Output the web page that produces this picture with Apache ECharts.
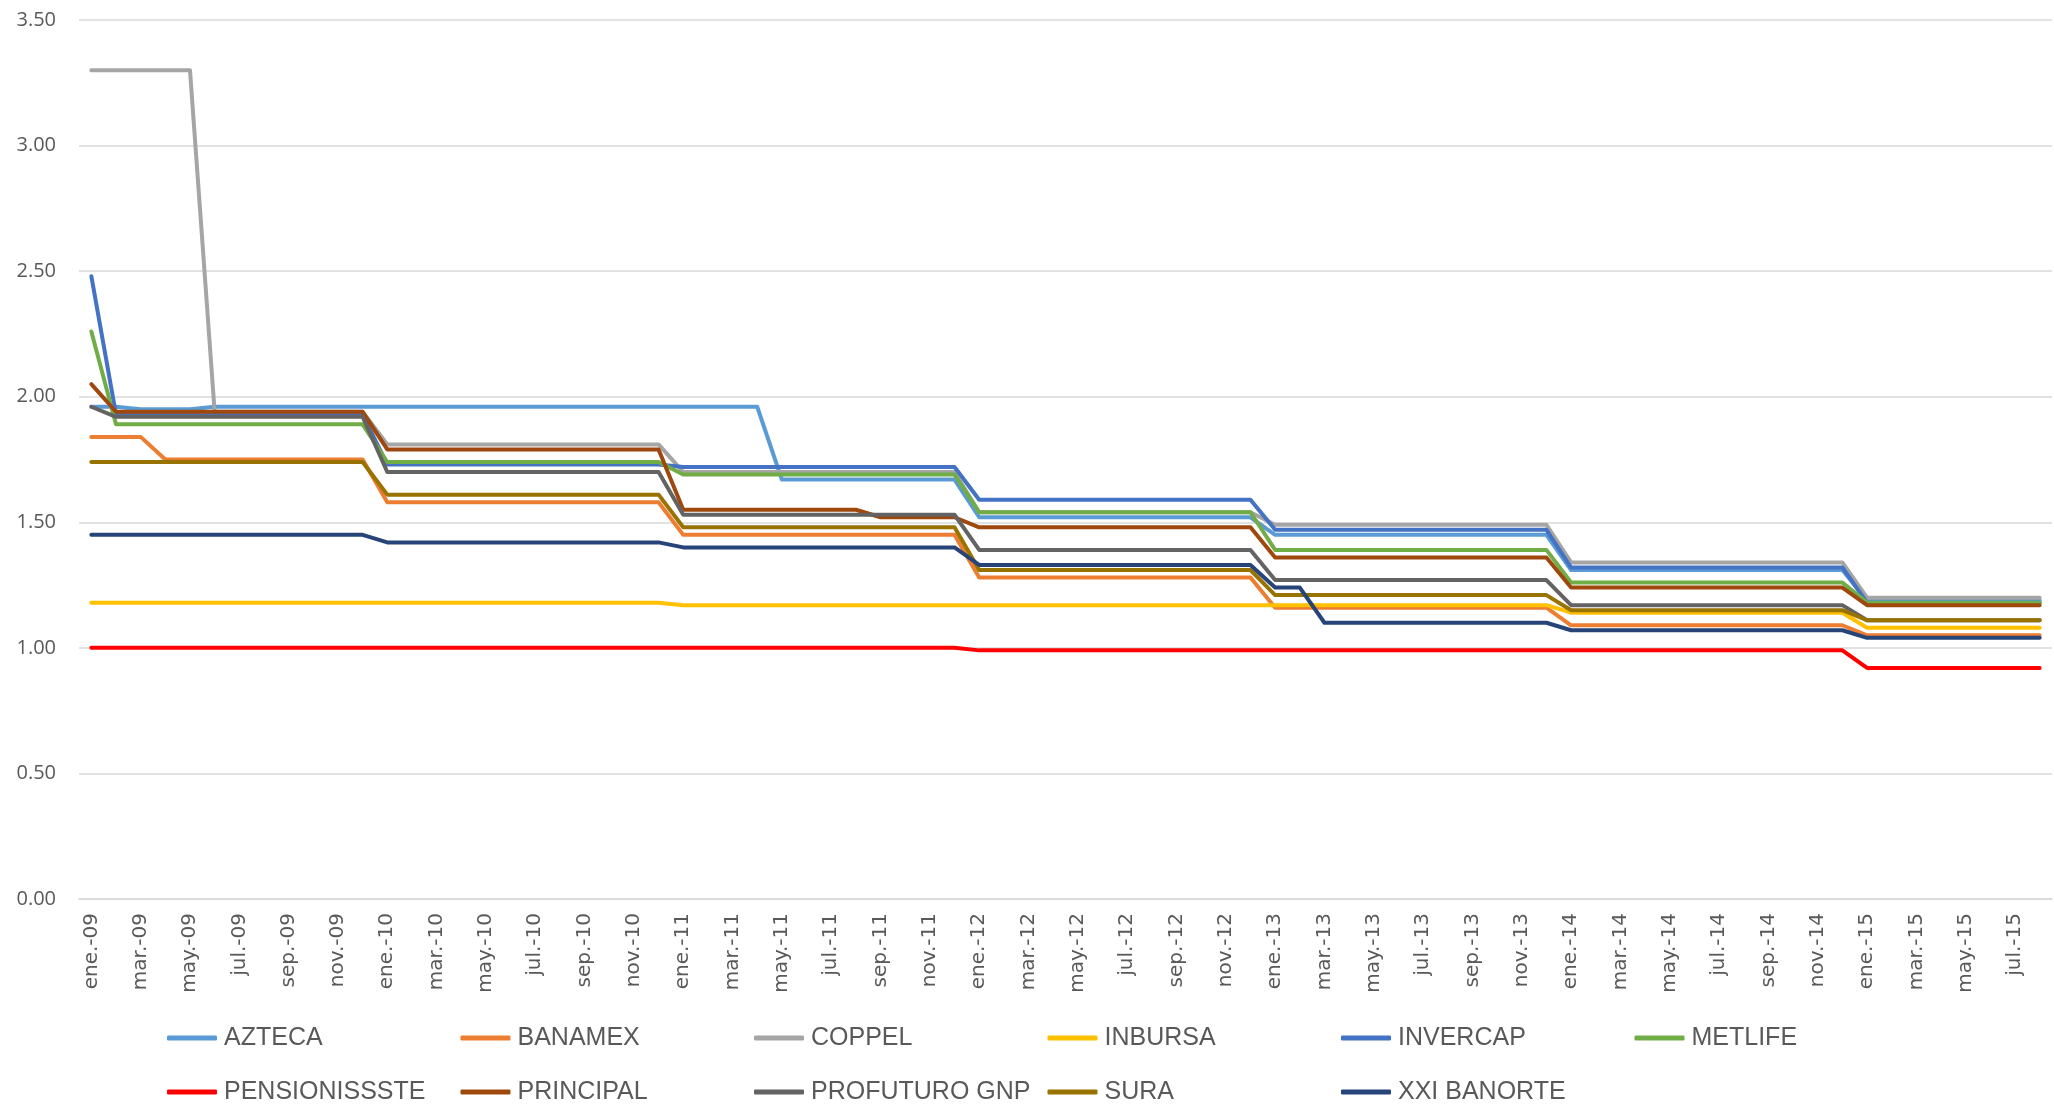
<!DOCTYPE html>
<html>
<head>
<meta charset="utf-8">
<title>Comisiones AFORE</title>
<script src="https://cdn.jsdelivr.net/npm/echarts@6/dist/echarts.min.js"></script>
<style>
  html, body { margin: 0; padding: 0; background: #fff; }
  #myChart { width: 2054px; height: 1104px; }
</style>
</head>
<body>
<div id="myChart"></div>
<script>
// months ene-09 .. ago-15
var months = [
  "ene.-09","feb.-09","mar.-09","abr.-09","may.-09","jun.-09","jul.-09","ago.-09","sep.-09","oct.-09","nov.-09","dic.-09",
  "ene.-10","feb.-10","mar.-10","abr.-10","may.-10","jun.-10","jul.-10","ago.-10","sep.-10","oct.-10","nov.-10","dic.-10",
  "ene.-11","feb.-11","mar.-11","abr.-11","may.-11","jun.-11","jul.-11","ago.-11","sep.-11","oct.-11","nov.-11","dic.-11",
  "ene.-12","feb.-12","mar.-12","abr.-12","may.-12","jun.-12","jul.-12","ago.-12","sep.-12","oct.-12","nov.-12","dic.-12",
  "ene.-13","feb.-13","mar.-13","abr.-13","may.-13","jun.-13","jul.-13","ago.-13","sep.-13","oct.-13","nov.-13","dic.-13",
  "ene.-14","feb.-14","mar.-14","abr.-14","may.-14","jun.-14","jul.-14","ago.-14","sep.-14","oct.-14","nov.-14","dic.-14",
  "ene.-15","feb.-15","mar.-15","abr.-15","may.-15","jun.-15","jul.-15","ago.-15"
];

var yTicks = [0, 0.5, 1, 1.5, 2, 2.5, 3, 3.5];

var azteca = [
  1.96,1.96,1.95,1.95,1.95,1.96,1.96,1.96,1.96,1.96,1.96,1.96,
  1.96,1.96,1.96,1.96,1.96,1.96,1.96,1.96,1.96,1.96,1.96,1.96,
  1.96,1.96,1.96,1.96,1.67,1.67,1.67,1.67,1.67,1.67,1.67,1.67,
  1.52,1.52,1.52,1.52,1.52,1.52,1.52,1.52,1.52,1.52,1.52,1.52,
  1.45,1.45,1.45,1.45,1.45,1.45,1.45,1.45,1.45,1.45,1.45,1.45,
  1.31,1.31,1.31,1.31,1.31,1.31,1.31,1.31,1.31,1.31,1.31,1.31,
  1.19,1.19,1.19,1.19,1.19,1.19,1.19,1.19
];
var banamex = [
  1.84,1.84,1.84,1.75,1.75,1.75,1.75,1.75,1.75,1.75,1.75,1.75,
  1.58,1.58,1.58,1.58,1.58,1.58,1.58,1.58,1.58,1.58,1.58,1.58,
  1.45,1.45,1.45,1.45,1.45,1.45,1.45,1.45,1.45,1.45,1.45,1.45,
  1.28,1.28,1.28,1.28,1.28,1.28,1.28,1.28,1.28,1.28,1.28,1.28,
  1.16,1.16,1.16,1.16,1.16,1.16,1.16,1.16,1.16,1.16,1.16,1.16,
  1.09,1.09,1.09,1.09,1.09,1.09,1.09,1.09,1.09,1.09,1.09,1.09,
  1.05,1.05,1.05,1.05,1.05,1.05,1.05,1.05
];
var coppel = [
  3.30,3.30,3.30,3.30,3.30,1.94,1.94,1.94,1.94,1.94,1.94,1.94,
  1.81,1.81,1.81,1.81,1.81,1.81,1.81,1.81,1.81,1.81,1.81,1.81,
  1.70,1.70,1.70,1.70,1.70,1.70,1.70,1.70,1.70,1.70,1.70,1.70,
  1.54,1.54,1.54,1.54,1.54,1.54,1.54,1.54,1.54,1.54,1.54,1.54,
  1.49,1.49,1.49,1.49,1.49,1.49,1.49,1.49,1.49,1.49,1.49,1.49,
  1.34,1.34,1.34,1.34,1.34,1.34,1.34,1.34,1.34,1.34,1.34,1.34,
  1.20,1.20,1.20,1.20,1.20,1.20,1.20,1.20
];
var inbursa = [
  1.18,1.18,1.18,1.18,1.18,1.18,1.18,1.18,1.18,1.18,1.18,1.18,
  1.18,1.18,1.18,1.18,1.18,1.18,1.18,1.18,1.18,1.18,1.18,1.18,
  1.17,1.17,1.17,1.17,1.17,1.17,1.17,1.17,1.17,1.17,1.17,1.17,
  1.17,1.17,1.17,1.17,1.17,1.17,1.17,1.17,1.17,1.17,1.17,1.17,
  1.17,1.17,1.17,1.17,1.17,1.17,1.17,1.17,1.17,1.17,1.17,1.17,
  1.14,1.14,1.14,1.14,1.14,1.14,1.14,1.14,1.14,1.14,1.14,1.14,
  1.08,1.08,1.08,1.08,1.08,1.08,1.08,1.08
];
var invercap = [
  2.48,1.93,1.93,1.93,1.93,1.93,1.93,1.93,1.93,1.93,1.93,1.93,
  1.73,1.73,1.73,1.73,1.73,1.73,1.73,1.73,1.73,1.73,1.73,1.73,
  1.72,1.72,1.72,1.72,1.72,1.72,1.72,1.72,1.72,1.72,1.72,1.72,
  1.59,1.59,1.59,1.59,1.59,1.59,1.59,1.59,1.59,1.59,1.59,1.59,
  1.47,1.47,1.47,1.47,1.47,1.47,1.47,1.47,1.47,1.47,1.47,1.47,
  1.32,1.32,1.32,1.32,1.32,1.32,1.32,1.32,1.32,1.32,1.32,1.32,
  1.18,1.18,1.18,1.18,1.18,1.18,1.18,1.18
];
var metlife = [
  2.26,1.89,1.89,1.89,1.89,1.89,1.89,1.89,1.89,1.89,1.89,1.89,
  1.74,1.74,1.74,1.74,1.74,1.74,1.74,1.74,1.74,1.74,1.74,1.74,
  1.69,1.69,1.69,1.69,1.69,1.69,1.69,1.69,1.69,1.69,1.69,1.69,
  1.54,1.54,1.54,1.54,1.54,1.54,1.54,1.54,1.54,1.54,1.54,1.54,
  1.39,1.39,1.39,1.39,1.39,1.39,1.39,1.39,1.39,1.39,1.39,1.39,
  1.26,1.26,1.26,1.26,1.26,1.26,1.26,1.26,1.26,1.26,1.26,1.26,
  1.18,1.18,1.18,1.18,1.18,1.18,1.18,1.18
];
var pensionissste = [
  1.00,1.00,1.00,1.00,1.00,1.00,1.00,1.00,1.00,1.00,1.00,1.00,
  1.00,1.00,1.00,1.00,1.00,1.00,1.00,1.00,1.00,1.00,1.00,1.00,
  1.00,1.00,1.00,1.00,1.00,1.00,1.00,1.00,1.00,1.00,1.00,1.00,
  0.99,0.99,0.99,0.99,0.99,0.99,0.99,0.99,0.99,0.99,0.99,0.99,
  0.99,0.99,0.99,0.99,0.99,0.99,0.99,0.99,0.99,0.99,0.99,0.99,
  0.99,0.99,0.99,0.99,0.99,0.99,0.99,0.99,0.99,0.99,0.99,0.99,
  0.92,0.92,0.92,0.92,0.92,0.92,0.92,0.92
];
var principal = [
  2.05,1.94,1.94,1.94,1.94,1.94,1.94,1.94,1.94,1.94,1.94,1.94,
  1.79,1.79,1.79,1.79,1.79,1.79,1.79,1.79,1.79,1.79,1.79,1.79,
  1.55,1.55,1.55,1.55,1.55,1.55,1.55,1.55,1.52,1.52,1.52,1.52,
  1.48,1.48,1.48,1.48,1.48,1.48,1.48,1.48,1.48,1.48,1.48,1.48,
  1.36,1.36,1.36,1.36,1.36,1.36,1.36,1.36,1.36,1.36,1.36,1.36,
  1.24,1.24,1.24,1.24,1.24,1.24,1.24,1.24,1.24,1.24,1.24,1.24,
  1.17,1.17,1.17,1.17,1.17,1.17,1.17,1.17
];
var profuturo = [
  1.96,1.92,1.92,1.92,1.92,1.92,1.92,1.92,1.92,1.92,1.92,1.92,
  1.70,1.70,1.70,1.70,1.70,1.70,1.70,1.70,1.70,1.70,1.70,1.70,
  1.53,1.53,1.53,1.53,1.53,1.53,1.53,1.53,1.53,1.53,1.53,1.53,
  1.39,1.39,1.39,1.39,1.39,1.39,1.39,1.39,1.39,1.39,1.39,1.39,
  1.27,1.27,1.27,1.27,1.27,1.27,1.27,1.27,1.27,1.27,1.27,1.27,
  1.17,1.17,1.17,1.17,1.17,1.17,1.17,1.17,1.17,1.17,1.17,1.17,
  1.11,1.11,1.11,1.11,1.11,1.11,1.11,1.11
];
var sura = [
  1.74,1.74,1.74,1.74,1.74,1.74,1.74,1.74,1.74,1.74,1.74,1.74,
  1.61,1.61,1.61,1.61,1.61,1.61,1.61,1.61,1.61,1.61,1.61,1.61,
  1.48,1.48,1.48,1.48,1.48,1.48,1.48,1.48,1.48,1.48,1.48,1.48,
  1.31,1.31,1.31,1.31,1.31,1.31,1.31,1.31,1.31,1.31,1.31,1.31,
  1.21,1.21,1.21,1.21,1.21,1.21,1.21,1.21,1.21,1.21,1.21,1.21,
  1.15,1.15,1.15,1.15,1.15,1.15,1.15,1.15,1.15,1.15,1.15,1.15,
  1.11,1.11,1.11,1.11,1.11,1.11,1.11,1.11
];
var xxiBanorte = [
  1.45,1.45,1.45,1.45,1.45,1.45,1.45,1.45,1.45,1.45,1.45,1.45,
  1.42,1.42,1.42,1.42,1.42,1.42,1.42,1.42,1.42,1.42,1.42,1.42,
  1.40,1.40,1.40,1.40,1.40,1.40,1.40,1.40,1.40,1.40,1.40,1.40,
  1.33,1.33,1.33,1.33,1.33,1.33,1.33,1.33,1.33,1.33,1.33,1.33,
  1.24,1.24,1.10,1.10,1.10,1.10,1.10,1.10,1.10,1.10,1.10,1.10,
  1.07,1.07,1.07,1.07,1.07,1.07,1.07,1.07,1.07,1.07,1.07,1.07,
  1.04,1.04,1.04,1.04,1.04,1.04,1.04,1.04
];

var names = ["AZTECA","BANAMEX","COPPEL","INBURSA","INVERCAP","METLIFE",
             "PENSIONISSSTE","PRINCIPAL","PROFUTURO GNP","SURA","XXI BANORTE"];
var seriesData = [azteca, banamex, coppel, inbursa, invercap, metlife,
                  pensionissste, principal, profuturo, sura, xxiBanorte];
var colors = ["#5B9BD5","#ED7D31","#A5A5A5","#FFC000","#4472C4","#70AD47",
              "#FF0000","#9E480E","#636363","#997300","#264478"];

var chartDom = document.getElementById("myChart");
var myChart = echarts.init(chartDom);

// one legend per item so the columns sit on a fixed grid like the original
var legends = names.map(function (n, i) {
  return {
    data: [n],
    left: 167 + (i % 6) * 293.5,
    top: i < 6 ? 1022 : 1076,
    padding: 0,
    icon: "roundRect",
    itemWidth: 50,
    itemHeight: 5,
    itemGap: 0,
    textStyle: {
      fontFamily: "Liberation Sans, Arial, sans-serif",
      fontSize: 25,
      lineHeight: 32,
      color: "#595959",
      padding: [0, 0, 0, 2]
    }
  };
});

myChart.setOption({
  animation: false,
  color: colors,
  grid: { left: 79, right: 2, top: 20, bottom: 205, containLabel: false },
  legend: legends,
  xAxis: {
    type: "category",
    data: months,
    boundaryGap: true,
    axisLine: { show: true, lineStyle: { color: "#D9D9D9", width: 1.5 } },
    axisTick: { show: false },
    axisLabel: {
      interval: 1,
      rotate: 90,
      margin: 14,
      fontFamily: "DejaVu Sans, sans-serif",
      fontSize: 20,
      color: "#595959"
    }
  },
  yAxis: {
    type: "value",
    min: yTicks[0],
    max: yTicks[yTicks.length - 1],
    interval: 0.5,
    axisLine: { show: false },
    axisTick: { show: false },
    splitLine: { lineStyle: { color: "#D9D9D9", width: 1.5 } },
    axisLabel: {
      margin: 23,
      fontFamily: "Open Sans, sans-serif",
      fontSize: 20,
      color: "#595959",
      formatter: function (v) { return v.toFixed(2); }
    }
  },
  series: names.map(function (n, i) {
    return {
      name: n,
      type: "line",
      data: seriesData[i],
      showSymbol: false,
      symbol: "none",
      lineStyle: { width: 4, cap: "round", join: "round" },
      emphasis: { disabled: true }
    };
  })
});
</script>
</body>
</html>
